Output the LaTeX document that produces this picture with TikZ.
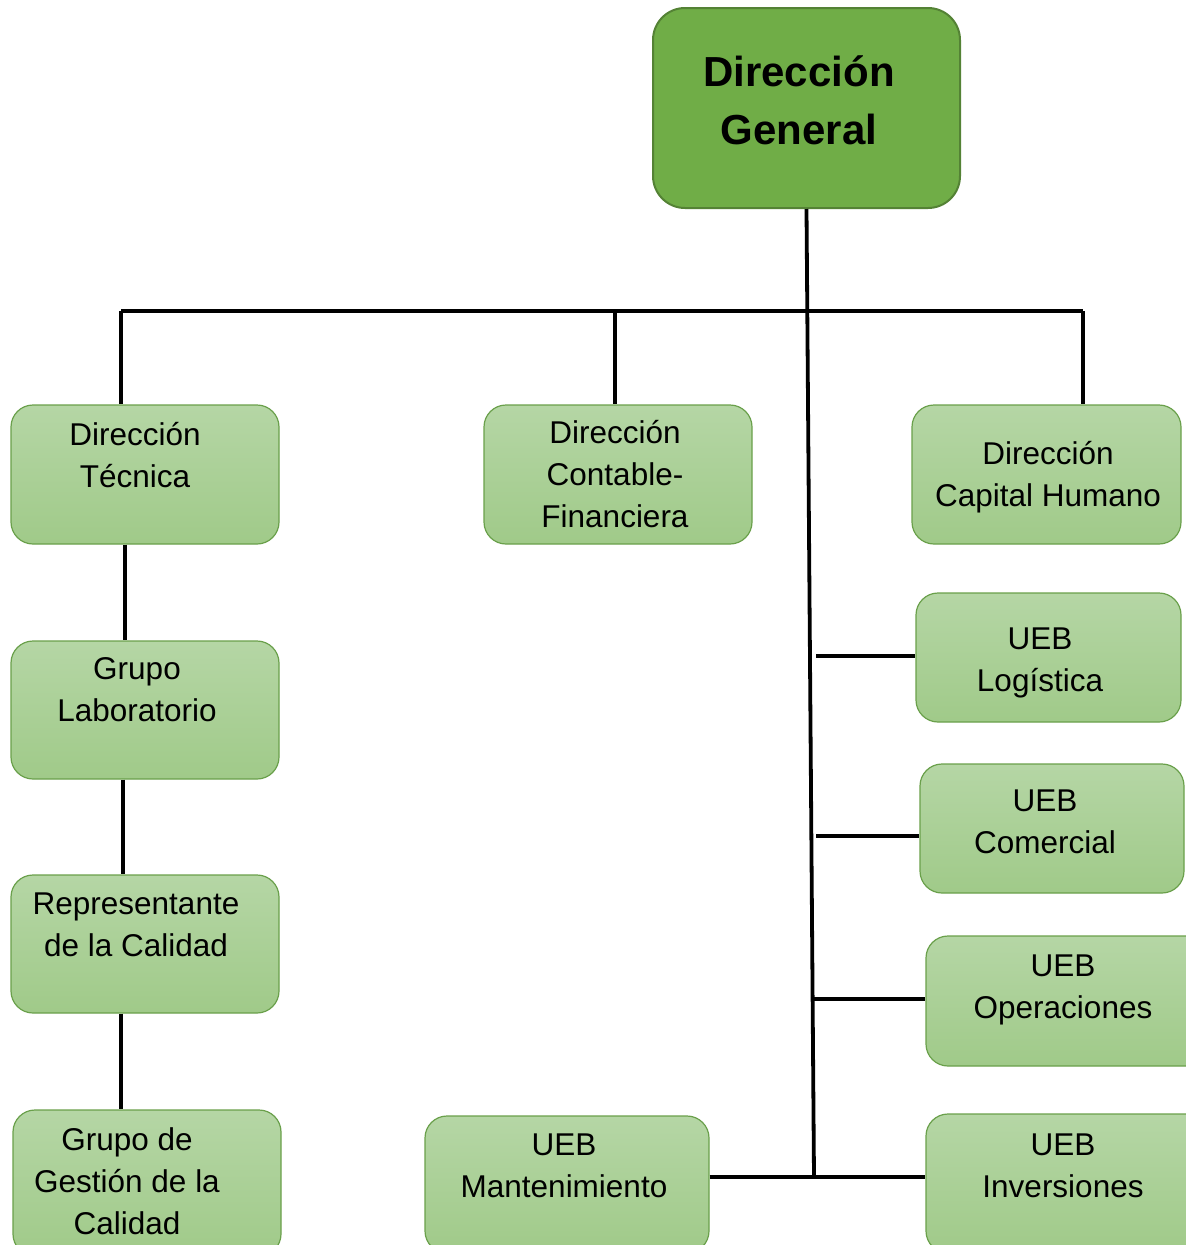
\documentclass[tikz,border=0pt]{standalone}
\usepackage{fontspec}
\setmainfont{Liberation Sans}
\usetikzlibrary{fit}
\definecolor{gtop}{RGB}{181,214,165}
\definecolor{gbot}{RGB}{160,202,137}
\definecolor{boxborder}{RGB}{106,160,75}
\definecolor{dgfill}{RGB}{112,173,71}
\definecolor{dgborder}{RGB}{84,130,53}
\tikzset{
  box/.style={draw=boxborder, line width=1.2, rounded corners=22, top color=gtop, bottom color=gbot, inner sep=0},
  dgbox/.style={draw=dgborder, line width=2, rounded corners=32, fill=dgfill, inner sep=0},
  txt/.style={align=center, inner sep=0, font=\fontsize{31.5}{42}\selectfont},
  dgtxt/.style={align=center, inner sep=0, font=\fontsize{42}{58}\selectfont\bfseries},
  conn/.style={line width=3.8, black}
}
\begin{document}
\begin{tikzpicture}[x=1pt,y=-1pt]
\useasboundingbox (0,0) rectangle (1186,1245);
\clip (0,0) rectangle (1186,1245);
\fill[white] (0,0) rectangle (1186,1245);
% boxes
\node[dgbox, fit={(653,8) (960,208)}] (dg) {};
\node[box, fit={(11,405) (279,544)}] (dt) {};
\node[box, fit={(484,405) (752,544)}] (dcf) {};
\node[box, fit={(912,405) (1181,544)}] (dch) {};
\node[box, fit={(11,641) (279,779)}] (gl) {};
\node[box, fit={(11,875) (279,1013)}] (rc) {};
\node[box, fit={(13,1110) (281,1256)}] (gg) {};
\node[box, fit={(425,1116) (709,1253)}] (mant) {};
\node[box, fit={(916,593) (1181,722)}] (log) {};
\node[box, fit={(920,764) (1184,893)}] (com) {};
\node[box, fit={(926,936) (1210,1066)}] (ope) {};
\node[box, fit={(926,1114) (1210,1253)}] (inv) {};
% texts
\node[dgtxt] (dgt) at (799,100) {Dirección\\General};
\node[txt] (dtt) at (135,455) {Dirección\\Técnica};
\node[txt] (dcft) at (615,474) {Dirección\\Contable-\\Financiera};
\node[txt] (dcht) at (1048,477) {Dirección\\Capital Humano};
\node[txt] (glt) at (137,690) {Grupo\\Laboratorio};
\node[txt] (rct) at (136,925) {Representante\\de la Calidad};
\node[txt] (ggt) at (127,1181) {Grupo de\\Gestión de la\\Calidad};
\node[txt] (mantt) at (564,1166) {UEB\\Mantenimiento};
\node[txt] (logt) at (1040,663) {UEB\\Logística};
\node[txt] (comt) at (1045,822) {UEB\\Comercial};
\node[txt] (opet) at (1063,990) {UEB\\Operaciones};
\node[txt] (invt) at (1063,1166) {UEB\\Inversiones};
% connector coordinates
\coordinate (bot) at (814,1177);
\coordinate (busL) at (121,311);
\coordinate (busM) at (615,311);
\coordinate (busR) at (1083,311);
\coordinate (j1) at (816,656);
\coordinate (j2) at (816,836);
\coordinate (j3) at (814,999);
% connectors
\draw[conn] (dg.south) -- (bot);
\draw[conn] (busL) -- (busR);
\draw[conn] (busL) -- (busL |- dt.north);
\draw[conn] (busM) -- (busM |- dcf.north);
\draw[conn] (busR) -- (busR |- dch.north);
\draw[conn] (j1) -- (j1 -| log.west);
\draw[conn] (j2) -- (j2 -| com.west);
\draw[conn] (j3) -- (j3 -| ope.west);
\draw[conn] (mant.east |- bot) -- (inv.west |- bot);
\draw[conn] ([xshift=-20]dt.south) -- ([xshift=-20]dt.south |- gl.north);
\draw[conn] ([xshift=-22]gl.south) -- ([xshift=-22]gl.south |- rc.north);
\draw[conn] ([xshift=-24]rc.south) -- ([xshift=-24]rc.south |- gg.north);
\end{tikzpicture}
\end{document}
